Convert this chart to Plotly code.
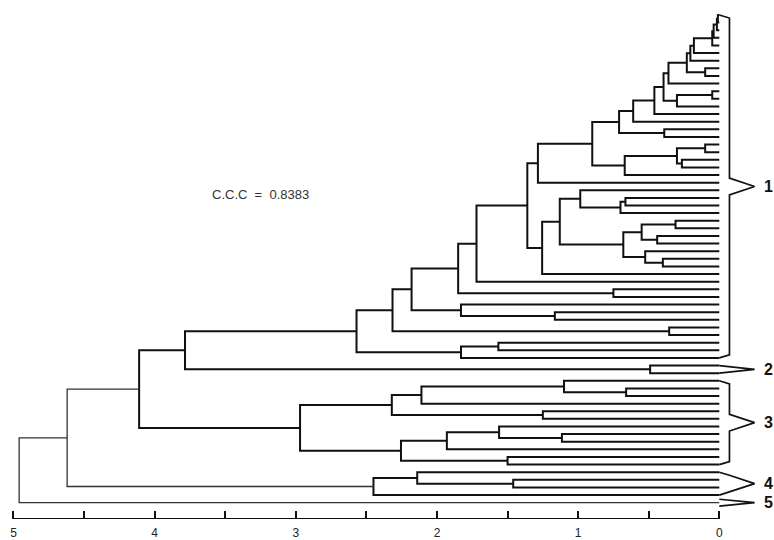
import plotly.graph_objects as go

# Leaves are numbered 1..65 from top to bottom; merges are (node, left, right, height).
# Integers refer to leaves, strings to earlier merges.
group1_merges = [
    ("g1a", 1, 2, 0.01), ("g1b", "g1a", 3, 0.017), ("g1c", "g1b", 4, 0.04),
    ("g1d", "g1c", 5, 0.05), ("g1e", "g1d", 6, 0.18), ("g1f", "g1e", 7, 0.205),
    ("g1g", 8, 9, 0.10), ("g1h", "g1f", "g1g", 0.23), ("g1i", "g1h", 10, 0.36),
    ("g1j", 11, 12, 0.05), ("g1k", "g1j", 13, 0.30), ("g1l", "g1i", "g1k", 0.395),
    ("g1m", "g1l", 14, 0.46), ("g1n", "g1m", 15, 0.61), ("g1o", 16, 17, 0.39),
    ("g1p", "g1n", "g1o", 0.71), ("g1q", 18, 19, 0.10), ("g1r", 20, 21, 0.265),
    ("g1s", "g1q", "g1r", 0.30), ("g1t", "g1s", 22, 0.67), ("g1u", "g1p", "g1t", 0.90),
    ("g1v", "g1u", 23, 1.285), ("g1w", 25, 26, 0.665), ("g1x", "g1w", 27, 0.70),
    ("g1y", 24, "g1x", 0.985), ("g1z", 28, 29, 0.31), ("g1aa", 30, 31, 0.44),
    ("g1ab", "g1z", "g1aa", 0.55), ("g1ac", 33, 34, 0.40), ("g1ad", 32, "g1ac", 0.525),
    ("g1ae", "g1ab", "g1ad", 0.68), ("g1af", "g1y", "g1ae", 1.13),
    ("g1ag", "g1af", 35, 1.255), ("g1ah", "g1v", "g1ag", 1.36), ("g1ai", "g1ah", 36, 1.72),
    ("g1aj", 37, 38, 0.75), ("g1ak", "g1ai", "g1aj", 1.85), ("g1al", 40, 41, 1.165),
    ("g1am", 39, "g1al", 1.83), ("g1an", "g1ak", "g1am", 2.18), ("g1ao", 42, 43, 0.355),
    ("g1ap", "g1an", "g1ao", 2.315), ("g1aq", 44, 45, 1.565), ("g1ar", "g1aq", 46, 1.83),
    ("G1", "g1ap", "g1ar", 2.57),
]
group2_merges = [("G2", 47, 48, 0.49)]
group3_merges = [
    ("g3a", 50, 51, 0.66), ("g3b", 49, "g3a", 1.10), ("g3c", "g3b", 52, 2.11),
    ("g3d", 53, 54, 1.25), ("g3e", "g3c", "g3d", 2.32), ("g3f", 56, 57, 1.115),
    ("g3g", 55, "g3f", 1.56), ("g3h", "g3g", 58, 1.93), ("g3i", 59, 60, 1.50),
    ("g3j", "g3h", "g3i", 2.255), ("G3", "g3e", "g3j", 2.97),
]
group4_merges = [("g4a", 62, 63, 1.46), ("g4b", 61, "g4a", 2.14), ("G4", "g4b", 64, 2.45)]
top_merges = [("T1", "G1", "G2", 3.785), ("T2", "T1", "G3", 4.11)]
root_merges = [("T3", "T2", "G4", 4.62), ("T4", "T3", 65, 4.96)]

# Cluster braces: (label, first leaf, last leaf)
cluster_labels = ["1", "2", "3", "4", "5"]
cluster_first = [1, 47, 49, 61, 65]
cluster_last = [46, 48, 60, 64, 65]

x_ticks = [0, 1, 2, 3, 4, 5]
ccc_text = "C.C.C&nbsp; =&nbsp; 0.8383"

N_LEAVES = 65
pos = {i: (float(i), 0.0) for i in range(1, N_LEAVES + 1)}  # name -> (y, height)


def segments(merge_lists):
    xs, ys = [], []
    for merges in merge_lists:
        for name, left, right, h in merges:
            yl, hl = pos[left]
            yr, hr = pos[right]
            xs += [hl, h, h, hr, None]
            ys += [yl, yl, yr, yr, None]
            pos[name] = ((yl + yr) / 2.0, h)
    return xs, ys


LINE = "#111111"
FONT = "Liberation Sans, Arial"
fig = go.Figure()

xs, ys = segments([group1_merges, group2_merges, group3_merges, group4_merges, top_merges])
fig.add_trace(go.Scatter(x=xs, y=ys, mode="lines", line=dict(color=LINE, width=2.0),
                         hoverinfo="skip", cliponaxis=False))
xs, ys = segments([root_merges])
fig.add_trace(go.Scatter(x=xs, y=ys, mode="lines", line=dict(color="#333333", width=1.3),
                         hoverinfo="skip", cliponaxis=False))

# Braces to the right of the leaves
XV, XP = -0.072, -0.25
bx, by = [], []
for first, last in zip(cluster_first, cluster_last):
    pad = 0.45 if first == last else 0.0
    top, bot = first - pad, last + pad
    mid = (top + bot) / 2.0
    half = (bot - top) / 2.0
    dm = min(1.1, half)
    dt = min(0.4, half - dm)
    if dt > 0:
        bx += [0.0, XV, XV, XP, XV, XV, 0.0, None]
        by += [top, top + dt, mid - dm, mid, mid + dm, bot - dt, bot, None]
    else:
        bx += [0.0, XP, 0.0, None]
        by += [top, mid, bot, None]
fig.add_trace(go.Scatter(x=bx, y=by, mode="lines", line=dict(color=LINE, width=1.7),
                         hoverinfo="skip", cliponaxis=False))

# Scale baseline from 5 to 0
Y_BOTTOM = 67.14
fig.add_trace(go.Scatter(x=[5, 0], y=[Y_BOTTOM, Y_BOTTOM], mode="lines",
                         line=dict(color=LINE, width=1.8), hoverinfo="skip",
                         cliponaxis=False))

for lab, first, last in zip(cluster_labels, cluster_first, cluster_last):
    fig.add_annotation(x=-0.30, y=(first + last) / 2.0, text="<b>%s</b>" % lab,
                       showarrow=False, xanchor="left", yanchor="middle",
                       font=dict(family=FONT, size=16, color="#111"))

fig.add_annotation(x=3.606, y=24.6, text=ccc_text, showarrow=False,
                   xanchor="left", yanchor="middle",
                   font=dict(family=FONT, size=13, color="#333"))

fig.update_layout(
    width=774, height=540,
    margin=dict(l=0, r=0, t=0, b=21),
    paper_bgcolor="white", plot_bgcolor="white",
    showlegend=False,
    xaxis=dict(range=[5.0956, -0.3875], tickvals=x_ticks,
               ticktext=[str(v) for v in x_ticks],
               ticks="inside", ticklen=8, tickwidth=1.6, tickcolor=LINE,
               ticklabelstandoff=5,
               minor=dict(dtick=0.5, ticks="inside", ticklen=8, tickwidth=1.6,
                          tickcolor=LINE, showgrid=False),
               showgrid=False, zeroline=False, showline=False,
               tickfont=dict(family=FONT, size=12, color="#222")),
    yaxis=dict(range=[Y_BOTTOM, -0.968], visible=False, showgrid=False, zeroline=False),
)

fig.write_html("out.html")
